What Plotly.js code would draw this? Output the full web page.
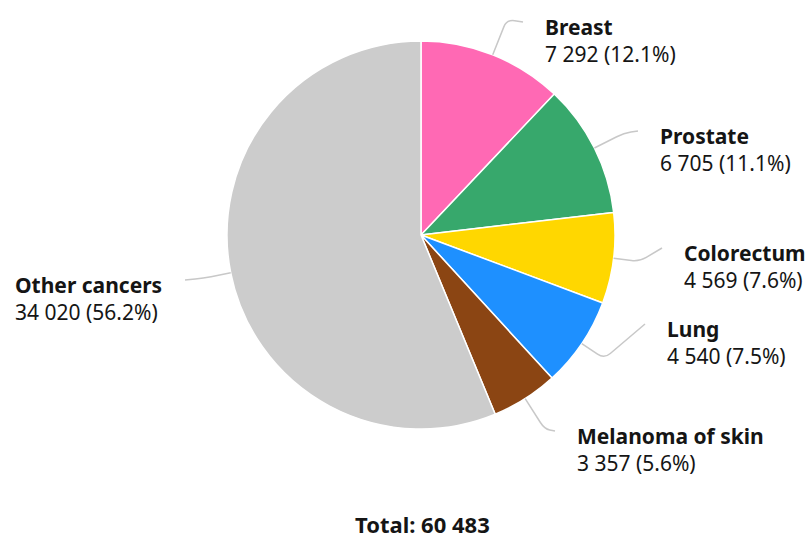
<!DOCTYPE html>
<html>
<head>
<meta charset="utf-8">
<script src="https://cdn.plot.ly/plotly-3.0.1.min.js"></script>
<style>html,body{margin:0;padding:0;background:#fff;}#chart{width:808px;height:540px;}</style>
</head>
<body>
<div id="chart"></div>
<script>
// ---- data ----
const categories = ['Breast', 'Prostate', 'Colorectum', 'Lung', 'Melanoma of skin', 'Other cancers'];
const cases = [7292, 6705, 4569, 4540, 3357, 34020];
const sliceColors = ['#ff69b4', '#37a86c', '#ffd700', '#1e90ff', '#8b4513', '#cccccc'];

// ---- layout helpers (pixel positions of label anchors / connector ends) ----
const W = 808, H = 540;
const CX = 421, CY = 235, R = 194;
const labelEnds = [[523, 22], [638, 131], [662, 248], [645, 324], [555, 431], [185, 280]];
const elbowOffsets = [38, 33, 26, 27, 36, 28];
const labelSide = ['right', 'right', 'right', 'right', 'right', 'left'];

const total = cases.reduce((a, b) => a + b, 0);
function fmt(n) { return String(n).replace(/\B(?=(\d{3})+(?!\d))/g, ' '); }
const px = x => x / W;
const py = y => 1 - y / H;

const trace = {
  type: 'pie',
  labels: categories,
  values: cases,
  sort: false,
  direction: 'clockwise',
  rotation: 0,
  textinfo: 'none',
  hoverinfo: 'label+value+percent',
  marker: { colors: sliceColors, line: { color: '#ffffff', width: 1.5 } },
  domain: { x: [(CX - R) / W, (CX + R) / W], y: [1 - (CY + R) / H, 1 - (CY - R) / H] },
  showlegend: false
};

const annotations = [];
const shapes = [];
let cum = 0;
cases.forEach((v, i) => {
  const mid = (cum + v / 2) / total * 2 * Math.PI;
  cum += v;
  const dx = Math.sin(mid), dy = -Math.cos(mid);
  const p0 = [CX + R * dx, CY + R * dy];
  const pm = [CX + (R + elbowOffsets[i]) * dx, CY + (R + elbowOffsets[i]) * dy];
  const p1 = labelEnds[i];
  const rr = 8;
  const d0 = Math.hypot(p0[0] - pm[0], p0[1] - pm[1]);
  const d1 = Math.hypot(p1[0] - pm[0], p1[1] - pm[1]);
  const f0 = Math.min(rr / d0, 0.5), f1 = Math.min(rr / d1, 0.5);
  const a = [pm[0] + (p0[0] - pm[0]) * f0, pm[1] + (p0[1] - pm[1]) * f0];
  const b = [pm[0] + (p1[0] - pm[0]) * f1, pm[1] + (p1[1] - pm[1]) * f1];
  const P = p => px(p[0]).toFixed(5) + ',' + py(p[1]).toFixed(5);
  shapes.push({
    type: 'path', xref: 'paper', yref: 'paper',
    path: 'M' + P(p0) + ' L' + P(a) + ' Q' + P(pm) + ' ' + P(b) + ' L' + P(p1),
    line: { color: '#c8c8c8', width: 1.5 }
  });
  const pct = (v / total * 100).toFixed(1);
  const right = labelSide[i] === 'right';
  annotations.push({
    xref: 'paper', yref: 'paper',
    x: px(right ? p1[0] + 20 : p1[0] - 21),
    y: py(p1[1] + 18),
    xanchor: right ? 'left' : 'right', yanchor: 'middle', align: 'left',
    showarrow: false,
    text: '<b>' + categories[i] + '</b><br>' + fmt(v) + ' (' + pct + '%)',
    font: { family: 'Noto Sans, Open Sans, sans-serif', size: 21, color: '#151515' }
  });
});

annotations.push({
  xref: 'paper', yref: 'paper', x: px(422), y: 0,
  xanchor: 'center', yanchor: 'bottom', showarrow: false, borderpad: 0,
  text: '<b>Total: ' + fmt(total) + '</b>',
  font: { family: 'Noto Sans, Open Sans, sans-serif', size: 22, color: '#151515' }
});

const layout = {
  width: W, height: H,
  margin: { l: 0, r: 0, t: 0, b: 0 },
  paper_bgcolor: '#ffffff',
  showlegend: false,
  annotations: annotations,
  shapes: shapes
};

Plotly.newPlot('chart', [trace], layout, { displayModeBar: false, staticPlot: true });
</script>
</body>
</html>
